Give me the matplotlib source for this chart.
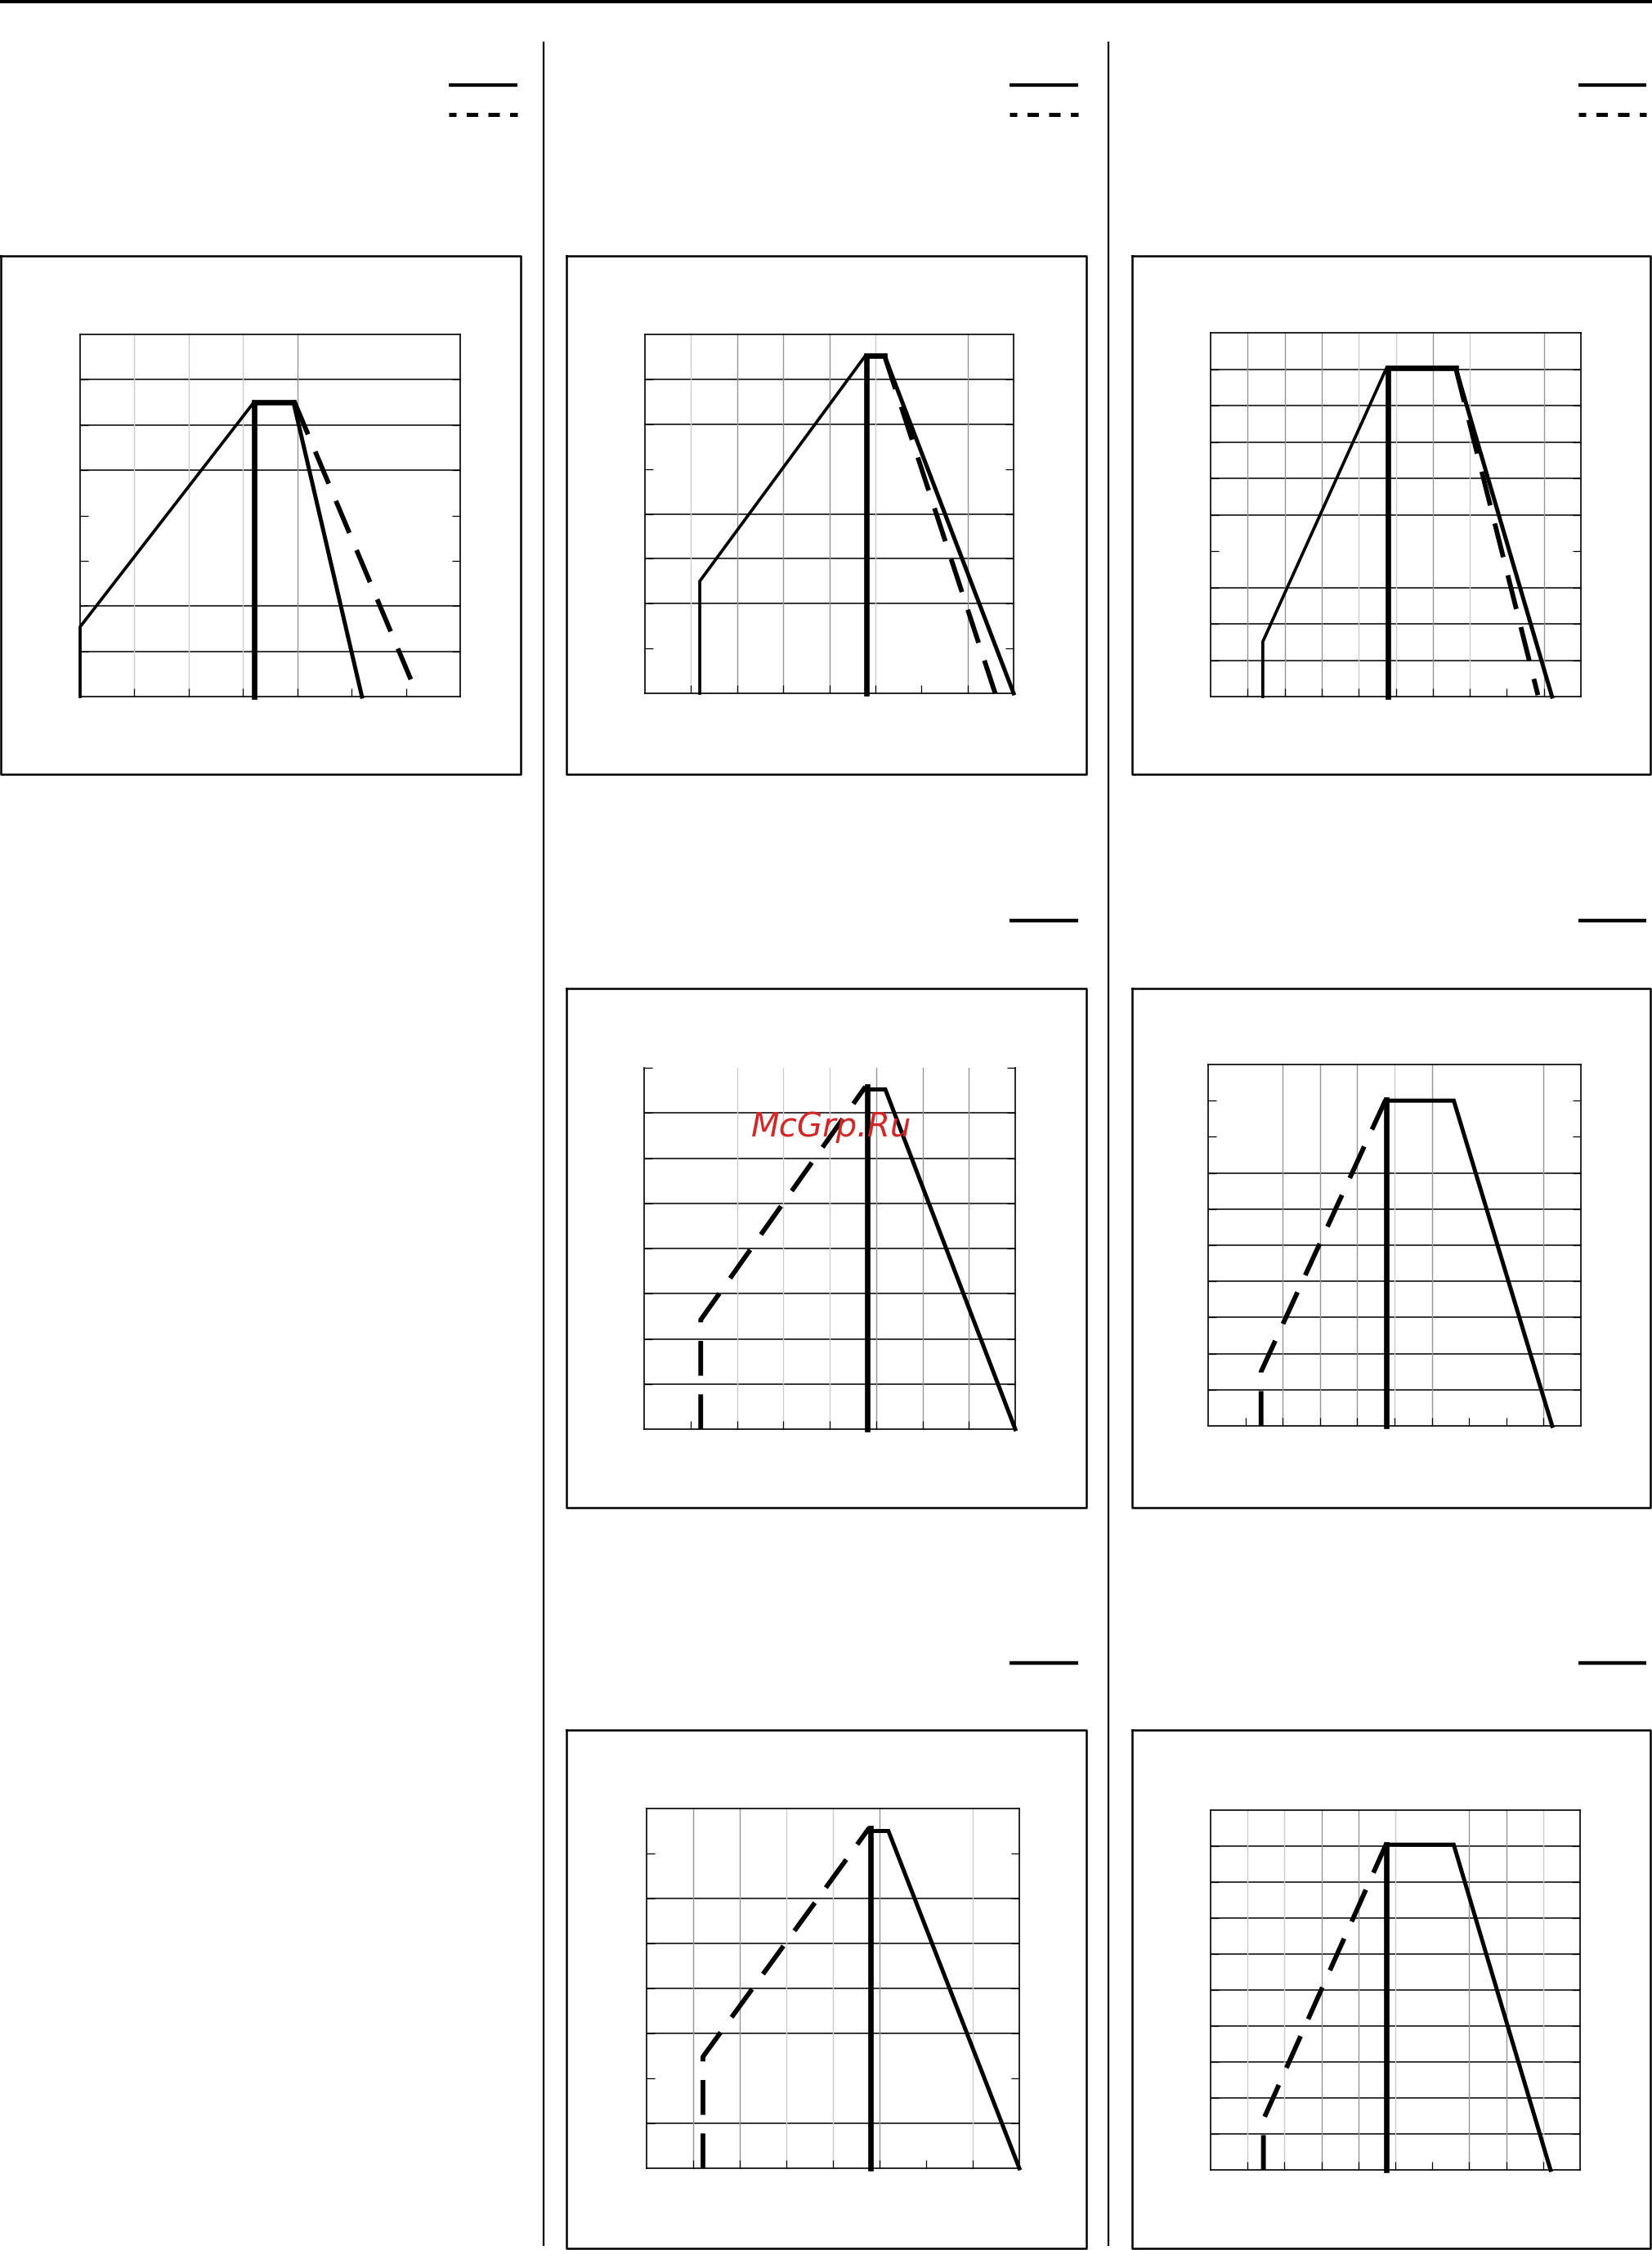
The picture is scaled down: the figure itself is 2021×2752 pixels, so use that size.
import numpy as np
import matplotlib.pyplot as plt

W, H = 2021, 2752

# ---- data (grid units) ----
# panel 1 (top left)
p1_up_x = [0, 0, 3.2]
p1_up_y = [0, 1.54, 6.5]
p1_post_x = [3.2, 3.2, 3.93]
p1_post_y = [0, 6.5, 6.5]
p1_down_x = [3.93, 5.19]
p1_down_y = [6.5, 0]
p1_dash_x = [3.95, 6.09]
p1_dash_y = [6.5, 0.38]

# panel 2 (top middle)
p2_up_x = [1.19, 1.19, 4.78]
p2_up_y = [0, 2.5, 7.52]
p2_post_x = [4.8, 4.8, 5.2]
p2_post_y = [0, 7.52, 7.52]
p2_down_x = [5.2, 8.0]
p2_down_y = [7.52, 0]
p2_dash_x = [5.2, 7.6]
p2_dash_y = [7.52, 0]

# panel 3 (top right)
p3_up_x = [1.41, 1.41, 4.75]
p3_up_y = [0, 1.51, 9.03]
p3_post_x = [4.78, 4.78, 6.62]
p3_post_y = [0, 9.03, 9.03]
p3_down_x = [6.62, 9.22]
p3_down_y = [9.03, 0]
p3_dash_x = [6.62, 8.84]
p3_dash_y = [9.03, 0.04]

# panel 4 (middle)
p4_dash_x = [1.22, 1.22, 4.77]
p4_dash_y = [0, 2.42, 7.58]
p4_post_x = [4.81, 4.81]
p4_post_y = [0, 7.58]
p4_down_x = [4.81, 5.2, 8.0]
p4_down_y = [7.52, 7.52, 0]

# panel 5 (middle right)
p5_dash_x = [1.42, 1.42, 4.76]
p5_dash_y = [0, 1.5, 9.02]
p5_post_x = [4.77, 4.77]
p5_post_y = [0, 9.02]
p5_down_x = [4.77, 6.59, 9.23]
p5_down_y = [9.0, 9.0, 0]

# panel 6 (bottom middle)
p6_dash_x = [1.21, 1.21, 4.78]
p6_dash_y = [0, 2.48, 7.57]
p6_post_x = [4.8, 4.8]
p6_post_y = [0, 7.57]
p6_down_x = [4.8, 5.19, 8.0]
p6_down_y = [7.5, 7.5, 0]

# panel 7 (bottom right)
p7_dash_x = [1.43, 1.43, 4.75]
p7_dash_y = [0, 1.4, 9.05]
p7_post_x = [4.76, 4.76]
p7_post_y = [0, 9.05]
p7_down_x = [4.76, 6.58, 9.2]
p7_down_y = [9.04, 9.04, 0]

# grid lines per panel
p1_h = [1, 2, 5, 6, 7]
p1_vd = [4]
p1_vl = [1, 2, 3]
p2_h = [2, 3, 4, 6, 7]
p2_vd = [2, 3, 4, 7]
p2_vl = [1, 5]
p3_h = [1, 2, 3, 5, 6, 7, 8, 9]
p3_vd = [1, 2, 3, 6, 9]
p3_vl = [4, 5, 7]
p4_h = [1, 2, 3, 4, 5, 6, 7]
p4_vd = [5, 6, 7]
p4_vl = [2, 3, 4]
p5_h = [1, 2, 3, 4, 5, 6, 7]
p5_vd = [2, 3, 4, 6, 9]
p5_vl = [5]
p6_h = [1, 3, 4, 5, 6]
p6_vd = [1, 2, 5]
p6_vl = [3, 4, 7]
p7_h = [1, 2, 3, 4, 5, 6, 7, 8, 9]
p7_vd = [3, 4, 7, 8]
p7_vl = [1, 2, 5, 9]

DARK = '#959595'
LIGHT = '#cccccc'
DASH = (7.3, 3.9)
LW_UP, LW_POST, LW_DOWN, LW_DASH = 2.7, 4.8, 3.6, 4.2


def px_axes(fig, l, t, r, b):
    return fig.add_axes([l / W, 1 - b / H, (r - l) / W, (b - t) / H])


def frame(ax, nx, ny, hg, vd, vl, top=True):
    ax.set_xlim(0, nx)
    ax.set_ylim(0, ny)
    for y in hg:
        ax.axhline(y, color='k', lw=1.1, zorder=1)
    for x in vd:
        ax.axvline(x, color=DARK, lw=1.0, zorder=1)
    for x in vl:
        ax.axvline(x, color=LIGHT, lw=1.0, zorder=1)
    ax.set_xticks(range(1, nx))
    yt = list(range(1, ny)) + ([] if top else [ny])
    ax.set_yticks(yt)
    ax.tick_params(direction='in', length=7, width=0.9, left=True, right=True,
                   bottom=True, top=False, labelleft=False, labelbottom=False)
    for s in ax.spines.values():
        s.set_linewidth(1.2)
    if not top:
        ax.spines['top'].set_visible(False)


def line(ax, x, y, lw, dashed=False):
    kw = dict(color='k', lw=lw, clip_on=False, zorder=3, solid_joinstyle='miter')
    if dashed:
        kw['dashes'] = DASH
    ax.plot(x, y, **kw)


fig = plt.figure(figsize=(W / 100, H / 100), dpi=100)
bg = fig.add_axes([0, 0, 1, 1])
bg.set_xlim(0, W)
bg.set_ylim(H, 0)
bg.axis('off')

# page rules
bg.plot([0, W], [2, 2], color='k', lw=2.9)
for sx in [665, 1356]:
    bg.plot([sx, sx], [52, 2746], color='k', lw=1.6)

# outer boxes
boxes = [(1, 313, 637, 947), (693, 313, 1329, 947), (1385, 313, 2019, 947),
         (693, 1209, 1329, 1844), (1385, 1209, 2019, 1844),
         (693, 2116, 1329, 2750), (1385, 2116, 2019, 2750)]
for l, t, r, b in boxes:
    bg.plot([l, r, r, l, l], [t, t, b, b, t], color='k', lw=1.8)

# legend samples
for lx in [(549, 633), (1235, 1319), (1931, 2014)]:
    bg.plot(lx, [104, 104], color='k', lw=3.1, solid_capstyle='butt')
    bg.plot(lx, [140, 140], color='k', lw=3.6, solid_capstyle='butt',
            linestyle=(1.0, (2.8, 2.5)), dash_capstyle='butt')
for ly in [1126, 2034]:
    for lx in [(1235, 1319), (1931, 2014)]:
        bg.plot(lx, [ly, ly], color='k', lw=3.2, solid_capstyle='butt')

# panel 1
ax = px_axes(fig, 98, 409, 563, 852)
frame(ax, 7, 8, p1_h, p1_vd, p1_vl)
line(ax, p1_up_x, p1_up_y, LW_UP)
line(ax, p1_post_x, p1_post_y, LW_POST)
line(ax, p1_down_x, p1_down_y, LW_DOWN)
line(ax, p1_dash_x, p1_dash_y, LW_DASH, dashed=True)

# panel 2
ax = px_axes(fig, 789, 409, 1240, 848)
frame(ax, 8, 8, p2_h, p2_vd, p2_vl)
line(ax, p2_up_x, p2_up_y, LW_UP)
line(ax, p2_post_x, p2_post_y, LW_POST)
line(ax, p2_down_x, p2_down_y, LW_DOWN)
line(ax, p2_dash_x, p2_dash_y, LW_DASH, dashed=True)

# panel 3
ax = px_axes(fig, 1481, 407, 1934, 852)
frame(ax, 10, 10, p3_h, p3_vd, p3_vl)
line(ax, p3_up_x, p3_up_y, LW_UP)
line(ax, p3_post_x, p3_post_y, LW_POST)
line(ax, p3_down_x, p3_down_y, LW_DOWN)
line(ax, p3_dash_x, p3_dash_y, LW_DASH, dashed=True)

# panel 4
ax = px_axes(fig, 788, 1306, 1242, 1748)
frame(ax, 8, 8, p4_h, p4_vd, p4_vl, top=False)
line(ax, p4_dash_x, p4_dash_y, LW_DASH, dashed=True)
line(ax, p4_post_x, p4_post_y, LW_POST)
line(ax, p4_down_x, p4_down_y, LW_DOWN)

# panel 5
ax = px_axes(fig, 1478, 1302, 1934, 1744)
frame(ax, 10, 10, p5_h, p5_vd, p5_vl)
line(ax, p5_dash_x, p5_dash_y, LW_DASH, dashed=True)
line(ax, p5_post_x, p5_post_y, LW_POST)
line(ax, p5_down_x, p5_down_y, LW_DOWN)

# panel 6
ax = px_axes(fig, 791, 2212, 1247, 2652)
frame(ax, 8, 8, p6_h, p6_vd, p6_vl)
line(ax, p6_dash_x, p6_dash_y, LW_DASH, dashed=True)
line(ax, p6_post_x, p6_post_y, LW_POST)
line(ax, p6_down_x, p6_down_y, LW_DOWN)

# panel 7
ax = px_axes(fig, 1481, 2214, 1933, 2654)
frame(ax, 10, 10, p7_h, p7_vd, p7_vl)
line(ax, p7_dash_x, p7_dash_y, LW_DASH, dashed=True)
line(ax, p7_post_x, p7_post_y, LW_POST)
line(ax, p7_down_x, p7_down_y, LW_DOWN)

fig.text(1017 / W, 1 - 1379 / H, 'McGrp.Ru', color='#d22828', fontsize=29,
         style='italic', ha='center', va='center', zorder=10)

fig.savefig('out.png', dpi=100)
